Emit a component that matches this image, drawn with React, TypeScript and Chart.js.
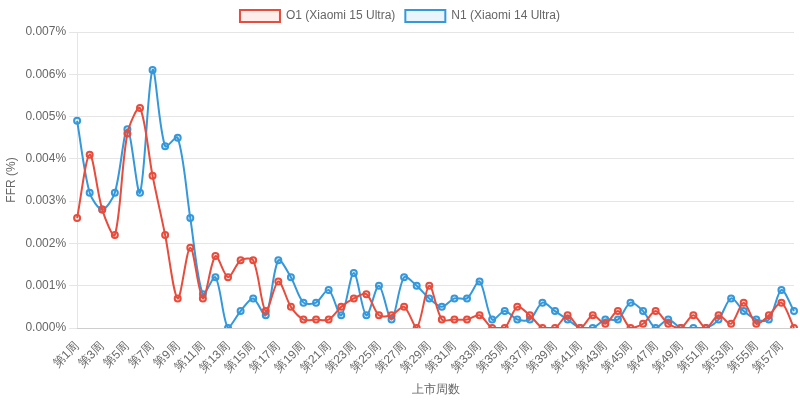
import React, { useRef, useEffect } from "react";
import { Chart, registerables } from "chart.js";

Chart.register(...registerables);

const weeks: string[] = Array.from({ length: 58 }, (_, i) => `第${i + 1}周`);

// FFR values in percent
const o1Values: number[] = [
  0.0026, 0.0041, 0.0028, 0.0022, 0.0046, 0.0052, 0.0036, 0.0022, 0.0007, 0.0019,
  0.0007, 0.0017, 0.0012, 0.0016, 0.0016, 0.0004, 0.0011, 0.0005, 0.0002, 0.0002,
  0.0002, 0.0005, 0.0007, 0.0008, 0.0003, 0.0003, 0.0005, 0.0, 0.001, 0.0002,
  0.0002, 0.0002, 0.0003, 0.0, 0.0, 0.0005, 0.0003, 0.0, 0.0, 0.0003,
  0.0, 0.0003, 0.0001, 0.0004, 0.0, 0.0001, 0.0004, 0.0001, 0.0, 0.0003,
  0.0, 0.0003, 0.0001, 0.0006, 0.0001, 0.0003, 0.0006, 0.0,
];

const n1Values: number[] = [
  0.0049, 0.0032, 0.0028, 0.0032, 0.0047, 0.0032, 0.0061, 0.0043, 0.0045, 0.0026,
  0.0008, 0.0012, 0.0, 0.0004, 0.0007, 0.0003, 0.0016, 0.0012, 0.0006, 0.0006,
  0.0009, 0.0003, 0.0013, 0.0003, 0.001, 0.0002, 0.0012, 0.001, 0.0007, 0.0005,
  0.0007, 0.0007, 0.0011, 0.0002, 0.0004, 0.0002, 0.0002, 0.0006, 0.0004, 0.0002,
  0.0, 0.0, 0.0002, 0.0002, 0.0006, 0.0004, 0.0, 0.0002, 0.0, 0.0,
  0.0, 0.0002, 0.0007, 0.0004, 0.0002, 0.0002, 0.0009, 0.0004,
];

const App: React.FC = () => {
  const chartRef = useRef<HTMLCanvasElement>(null);

  useEffect(() => {
    document.body.style.margin = "0";
    if (!chartRef.current) return;

    const chart = new Chart(chartRef.current, {
      type: "line",
      data: {
        labels: weeks,
        datasets: [
          {
            label: "O1 (Xiaomi 15 Ultra)",
            data: o1Values,
            borderColor: "#e74c3c",
            backgroundColor: "rgba(231, 76, 60, 0.1)",
            pointBackgroundColor: "rgba(231, 76, 60, 0.1)",
            pointBorderColor: "#e74c3c",
            borderWidth: 2,
            pointRadius: 3,
            pointBorderWidth: 2,
            tension: 0.3,
            fill: false,
          },
          {
            label: "N1 (Xiaomi 14 Ultra)",
            data: n1Values,
            borderColor: "#3498db",
            backgroundColor: "rgba(52, 152, 219, 0.1)",
            pointBackgroundColor: "rgba(52, 152, 219, 0.1)",
            pointBorderColor: "#3498db",
            borderWidth: 2,
            pointRadius: 3,
            pointBorderWidth: 2,
            tension: 0.3,
            fill: false,
          },
        ],
      },
      options: {
        animation: false,
        responsive: true,
        maintainAspectRatio: false,
        plugins: {
          legend: {
            position: "top",
            labels: { color: "#666", font: { size: 12 } },
          },
        },
        scales: {
          x: {
            grid: { display: false },
            title: { display: true, text: "上市周数", color: "#666" },
            ticks: { color: "#666", maxRotation: 45, minRotation: 45 },
          },
          y: {
            min: 0,
            max: 0.007,
            ticks: {
              stepSize: 0.001,
              color: "#666",
              callback: (v) => Number(v).toFixed(3) + "%",
            },
            title: { display: true, text: "FFR (%)", color: "#666" },
          },
        },
      },
    });

    return () => {
      chart.destroy();
    };
  }, []);

  return (
    <div style={{ width: 800, height: 401 }}>
      <canvas ref={chartRef} />
    </div>
  );
};

export default App;
